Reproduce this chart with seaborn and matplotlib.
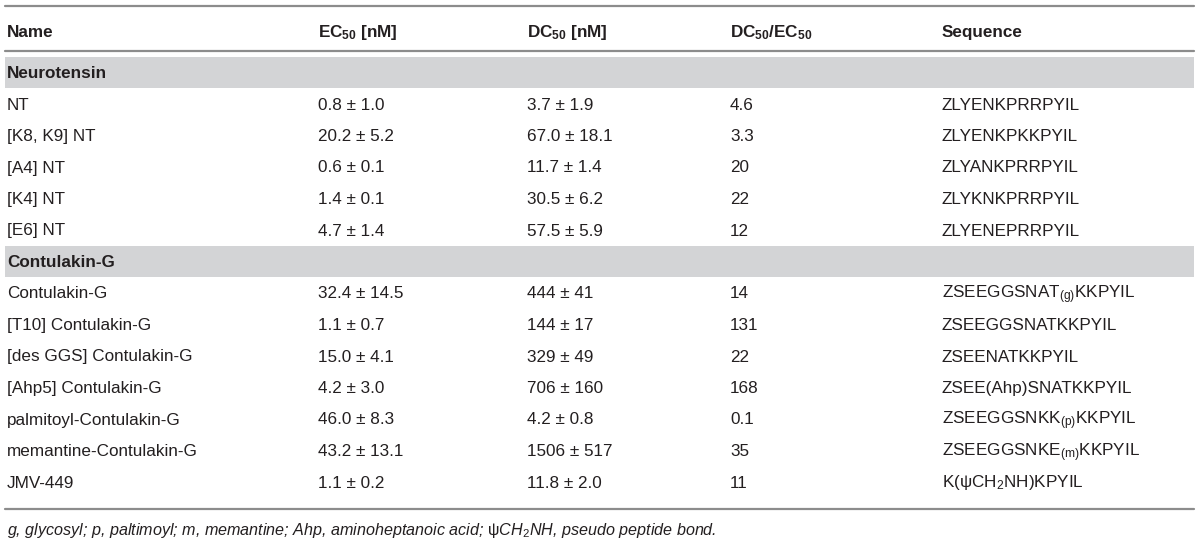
import numpy as np
import pandas as pd
import seaborn as sns
import matplotlib
matplotlib.use('Agg')
import matplotlib.pyplot as plt

# table content
groups = ['Neurotensin', 'Contulakin-G']
group_of = ['Neurotensin'] * 5 + ['Contulakin-G'] * 7
names = ['NT', '[K8, K9] NT', '[A4] NT', '[K4] NT', '[E6] NT',
         'Contulakin-G', '[T10] Contulakin-G', '[des GGS] Contulakin-G',
         '[Ahp5] Contulakin-G', 'palmitoyl-Contulakin-G',
         'memantine-Contulakin-G', 'JMV-449']
ec50 = [0.8, 20.2, 0.6, 1.4, 4.7, 32.4, 1.1, 15.0, 4.2, 46.0, 43.2, 1.1]
ec50_sd = [1.0, 5.2, 0.1, 0.1, 1.4, 14.5, 0.7, 4.1, 3.0, 8.3, 13.1, 0.2]
dc50 = [3.7, 67.0, 11.7, 30.5, 57.5, 444, 144, 329, 706, 4.2, 1506, 11.8]
dc50_sd = [1.9, 18.1, 1.4, 6.2, 5.9, 41, 17, 49, 160, 0.8, 517, 2.0]
ratio = [4.6, 3.3, 20, 22, 12, 14, 131, 22, 168, 0.1, 35, 11]
sequence = ['ZLYENKPRRPYIL', 'ZLYENKPKKPYIL', 'ZLYANKPRRPYIL',
            'ZLYKNKPRRPYIL', 'ZLYENEPRRPYIL',
            r'ZSEEGGSNAT$_{\mathrm{(g)}}$KKPYIL', 'ZSEEGGSNATKKPYIL',
            'ZSEENATKKPYIL', 'ZSEE(Ahp)SNATKKPYIL',
            r'ZSEEGGSNKK$_{\mathrm{(p)}}$KKPYIL',
            r'ZSEEGGSNKE$_{\mathrm{(m)}}$KKPYIL',
            r'K($\mathrm{\psi}$CH$_{\mathrm{2}}$NH)KPYIL']
headers = ['Name', r'EC$_{\mathbf{50}}$ [nM]', r'DC$_{\mathbf{50}}$ [nM]',
           r'DC$_{\mathbf{50}}$/EC$_{\mathbf{50}}$', 'Sequence']
footnote = (r'g, glycosyl; p, paltimoyl; m, memantine; Ahp, aminoheptanoic acid; '
            r'$\mathrm{\psi}$CH$_{\mathit{2}}$NH, pseudo peptide bond.')

def fmt_val(v):
    return '%.1f' % v if v < 100 else '%d' % v

def fmt_ratio(v):
    return '%.1f' % v if v < 10 else '%d' % v

df = pd.DataFrame({'group': group_of, 'name': names,
                   'ec': [fmt_val(a) + ' \u00b1 ' + fmt_val(b) for a, b in zip(ec50, ec50_sd)],
                   'dc': [fmt_val(a) + ' \u00b1 ' + fmt_val(b) if a < 100
                          else '%d \u00b1 %d' % (a, b) for a, b in zip(dc50, dc50_sd)],
                   'ratio': [fmt_ratio(r) for r in ratio],
                   'seq': sequence})

sns.set_theme(style='white')
plt.rcParams['font.family'] = ['Liberation Sans', 'DejaVu Sans']
plt.rcParams['mathtext.fontset'] = 'custom'
plt.rcParams['mathtext.rm'] = 'Liberation Sans'
plt.rcParams['mathtext.it'] = 'Liberation Sans:italic'
plt.rcParams['mathtext.bf'] = 'Liberation Sans:bold'

txt = '#231f20'
rule = '#8c8c8c'
band = '#d3d4d6'
fs = 12.3
base = 6  # centre line -> baseline

fig = plt.figure(figsize=(12, 5.47), dpi=100)
ax = fig.add_axes([0, 0, 1, 1])
ax.set_xlim(0, 1200)
ax.set_ylim(547, 0)
ax.axis('off')

col_x = [7, 318, 527, 730, 942]
step = 31.5
y = 31
ax.axhline(6, xmin=5 / 1200, xmax=1194 / 1200, color=rule, lw=1.6)
for x, h in zip(col_x, headers):
    ax.text(x, y + base, h, fontsize=fs, fontweight='bold', color=txt, va='baseline')
ax.axhline(51, xmin=5 / 1200, xmax=1194 / 1200, color=rule, lw=1.6)

y = 72
for g in groups:
    ax.axhspan(y - 15.5, y + 15.5, xmin=5 / 1200, xmax=1194 / 1200, color=band, lw=0)
    ax.text(col_x[0], y + base, g, fontsize=fs, fontweight='bold', color=txt, va='baseline')
    y += step
    for _, row in df[df['group'] == g].iterrows():
        for x, key in zip(col_x, ['name', 'ec', 'dc', 'ratio', 'seq']):
            ax.text(x, y + base, row[key], fontsize=fs, color=txt, va='baseline')
        y += step

ax.axhline(509, xmin=5 / 1200, xmax=1194 / 1200, color=rule, lw=1.6)
ax.text(col_x[0], 530 + 5, footnote, fontsize=11.6, style='italic', color=txt, va='baseline')

fig.savefig('out.png', dpi=100)
